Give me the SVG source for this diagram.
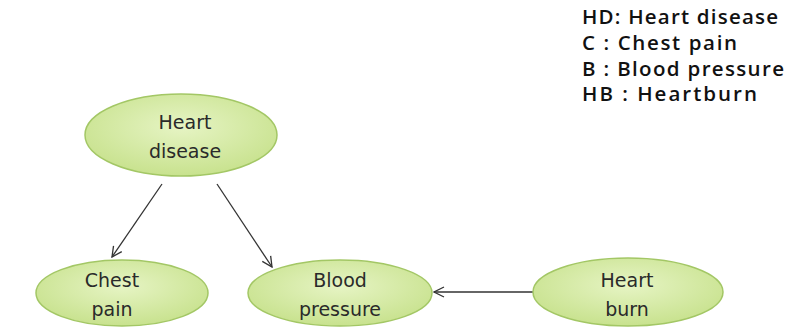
<svg xmlns="http://www.w3.org/2000/svg" width="789" height="329" viewBox="0 0 789 329">
<defs>
<radialGradient id="g" cx="50%" cy="40%" r="60%">
<stop offset="0" stop-color="#e6f4c4"/>
<stop offset="1" stop-color="#c8e28e"/>
</radialGradient>
<marker id="a" viewBox="0 0 12 12" refX="11" refY="6" markerWidth="12" markerHeight="12" markerUnits="userSpaceOnUse" orient="auto">
<path d="M1,1 L11,6 L1,11" fill="none" stroke="#333" stroke-width="1.3"/>
</marker>
<style>
.n{fill:url(#g);stroke:#a3c765;stroke-width:1.5}
.t{font-family:"DejaVu Sans",sans-serif;font-size:19px;fill:#2a2a2a;text-anchor:middle}
.l{font-family:"Open Sans",sans-serif;font-size:20.5px;font-weight:600;fill:#111}
.e{stroke:#333;stroke-width:1.3;fill:none;marker-end:url(#a)}
</style>
</defs>
<rect width="789" height="329" fill="#fff"/>
<g id="connectors">
<line class="e" x1="162" y1="184" x2="112" y2="257"/>
<line class="e" x1="217" y1="184" x2="272" y2="267"/>
<line class="e" x1="533" y1="292" x2="434" y2="292"/>
</g>
<g id="hd">
<ellipse class="n" cx="181" cy="135" rx="96" ry="41"/>
<text class="t" x="185" y="129">Heart</text>
<text class="t" x="185" y="158">disease</text>
</g>
<g id="c">
<ellipse class="n" cx="122" cy="293" rx="86" ry="33"/>
<text class="t" x="112" y="287">Chest</text>
<text class="t" x="112" y="316">pain</text>
</g>
<g id="b">
<ellipse class="n" cx="340" cy="293" rx="92" ry="33"/>
<text class="t" x="340" y="287">Blood</text>
<text class="t" x="340" y="316">pressure</text>
</g>
<g id="hb">
<ellipse class="n" cx="628" cy="292" rx="95" ry="34"/>
<text class="t" x="627" y="287">Heart</text>
<text class="t" x="627" y="316">burn</text>
</g>
<g id="legend">
<text class="l" x="582" y="24" textLength="196">HD: Heart disease</text>
<text class="l" x="582" y="50" textLength="155">C : Chest pain</text>
<text class="l" x="582" y="76" textLength="202">B : Blood pressure</text>
<text class="l" x="582" y="101" textLength="175">HB : Heartburn</text>
</g>
</svg>
